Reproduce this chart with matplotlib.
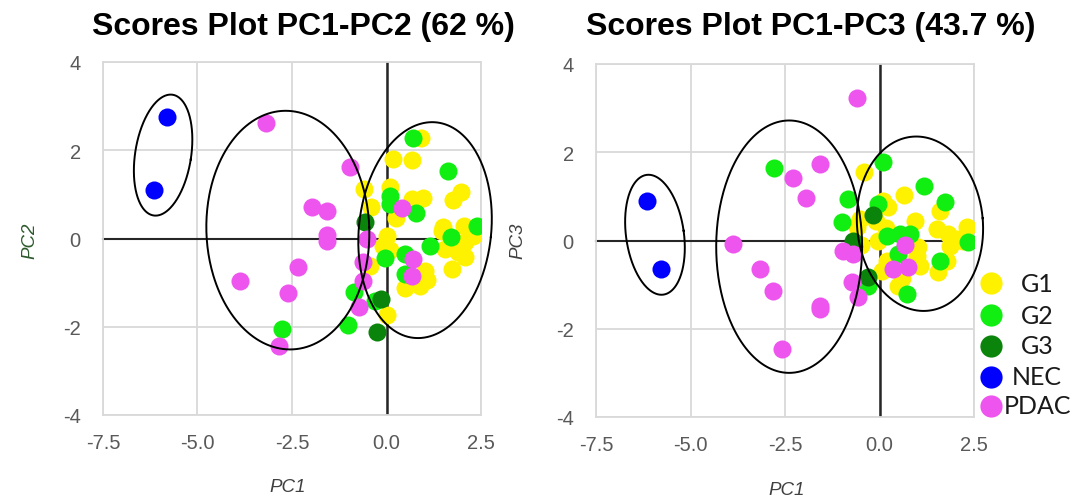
import numpy as np
import matplotlib
matplotlib.use("Agg")
import matplotlib.pyplot as plt
from matplotlib.lines import Line2D

# ---------------- data ----------------
groups = ["G1", "G2", "G3", "NEC", "PDAC"]
colors = {"G1": "#FFF200", "G2": "#11EE11", "G3": "#0B840B", "NEC": "#0000FF", "PDAC": "#EE55EE"}

# Left plot: PC1 vs PC2
g1_pc1_a = [0.91, 0.17, 0.67, -0.60, 0.09, -0.41, 0.67, 0.97, 1.97, 1.76, 0.25, 1.49, 2.05, 0.01, -0.09,
            0.09, -0.44, 1.55, 1.89, 2.08, 2.29, 1.73, 0.49, 0.89, 1.07, 1.02, 0.01, 1.47, 2.08]
g1_pc2_a = [2.28, 1.80, 1.78, 1.12, 1.16, 0.71, 0.89, 0.91, 1.05, 0.87, 0.46, 0.26, 0.28, 0.05, -0.17,
            -0.27, -0.63, -0.24, -0.31, -0.08, 0.05, -0.70, -1.13, -1.08, -0.93, -0.74, -1.74, 0.17, -0.43]
g2_pc1_a = [0.70, 1.63, 0.09, 0.09, 0.78, 2.39, 1.71, 1.15, -0.04, 0.49, 0.49, -0.86, -0.30, -1.02, -2.76]
g2_pc2_a = [2.28, 1.53, 0.96, 0.78, 0.58, 0.28, 0.03, -0.17, -0.45, -0.36, -0.81, -1.22, -1.42, -1.95, -2.06]
g3_pc1_a = [-0.57, -0.15, -0.25]
g3_pc2_a = [0.37, -1.38, -2.13]
nec_pc1_a = [-5.81, -6.15]
nec_pc2_a = [2.76, 1.10]
pdac_pc1_a = [-3.19, -3.88, -2.61, -2.84, -2.34, -0.97, -1.97, -1.57, -1.57, -1.57, 0.41, -0.52, -0.62,
              -0.62, -0.73, 0.70, 0.67]
pdac_pc2_a = [2.62, -0.97, -1.24, -2.43, -0.65, 1.62, 0.71, 0.62, 0.08, -0.06, 0.69, -0.02, -0.54,
              -0.97, -1.56, -0.47, -0.86]

# Right plot: PC1 vs PC3
g1_pc1_b = [-0.41, 0.65, 0.22, 0.09, 1.60, 0.94, -0.52, -0.60, -0.09, 0.17, -0.04, 1.52, 1.81, 2.31, 2.05,
            1.87, 1.02, 1.07, 1.55, 1.79, 0.07, 0.20, 0.49, 0.60, 1.00, 2.20, -0.50]
g1_pc3_b = [1.55, 1.04, 0.76, 0.90, 0.67, 0.45, 0.49, 0.31, 0.45, 0.29, 0.00, 0.26, 0.15, 0.31, 0.04,
            -0.12, -0.14, -0.57, -0.71, -0.46, -0.69, -0.46, -1.03, -0.85, -0.35, 0.00, -0.10]
g2_pc1_b = [-2.79, 0.09, 1.18, 1.73, -0.83, -0.99, -0.04, 2.34, 0.20, 0.54, 0.81, 0.49, 1.60, -0.30, 0.73]
g2_pc3_b = [1.64, 1.78, 1.24, 0.88, 0.94, 0.42, 0.83, -0.03, 0.11, 0.15, 0.15, -0.30, -0.46, -1.03, -1.21]
g3_pc1_b = [-0.17, -0.70, -0.30]
g3_pc3_b = [0.58, 0.00, -0.82]
nec_pc1_b = [-6.15, -5.78]
nec_pc3_b = [0.90, -0.65]
pdac_pc1_b = [-0.60, -1.57, -2.29, -1.94, -3.88, -3.16, -2.82, -1.57, -1.57, -2.58, -0.97, -0.70, -0.73,
              -0.57, 0.67, 0.36, 0.75]
pdac_pc3_b = [3.23, 1.73, 1.42, 0.97, -0.07, -0.64, -1.14, -1.48, -1.55, -2.47, -0.23, -0.30, -0.93,
              -1.27, -0.10, -0.64, -0.60]

# cluster ellipses: centre x, centre y, width (x units), height (y units), tilt (deg, on screen)
ell_a_cx = [-5.91, -2.61, 1.02]
ell_a_cy = [1.89, 0.19, 0.19]
ell_a_w = [1.48, 4.31, 3.50]
ell_a_h = [2.77, 5.41, 4.91]
ell_a_ang = [-9, 2, -6]

ell_b_cx = [-5.94, -2.39, 1.07]
ell_b_cy = [0.13, -0.14, 0.38]
ell_b_w = [1.53, 3.86, 3.33]
ell_b_h = [2.74, 5.72, 3.96]
ell_b_ang = [8, 0, 5]

x_ticks = [-7.5, -5.0, -2.5, 0.0, 2.5]
x_ticklabels = ["-7.5", "-5.0", "-2.5", "0.0", "2.5"]
y_ticks = [-4, -2, 0, 2, 4]
y_ticklabels = ["-4", "-2", "0", "2", "4"]

titles = ["Scores Plot PC1-PC2 (62 %)", "Scores Plot PC1-PC3 (43.7 %)"]

# ---------------- figure ----------------
W, H = 1083, 502
fig = plt.figure(figsize=(W / 100, H / 100), dpi=100)
plt.rcParams['font.family'] = ['Liberation Sans', 'DejaVu Sans']

def px_box(l, t, r, b):
    return [l / W, 1 - b / H, (r - l) / W, (b - t) / H]

axA = fig.add_axes(px_box(103, 63, 481, 416))
axB = fig.add_axes(px_box(596, 65, 974, 418))

grid_c = "#D9D9D9"
tick_c = "#595959"
msize = 13


def draw_ellipse(ax, cx, cy, w, h, ang):
    t = np.linspace(0, 2 * np.pi, 300)
    x0, y0 = ax.transData.transform((cx, cy))
    x1, _ = ax.transData.transform((cx + 1, cy))
    _, y1 = ax.transData.transform((cx, cy + 1))
    a = w / 2 * (x1 - x0)
    b = h / 2 * (y1 - y0)
    th = np.deg2rad(ang)
    px = x0 + a * np.cos(t) * np.cos(th) - b * np.sin(t) * np.sin(th)
    py = y0 + a * np.cos(t) * np.sin(th) + b * np.sin(t) * np.cos(th)
    pts = ax.transData.inverted().transform(np.column_stack([px, py]))
    ax.plot(pts[:, 0], pts[:, 1], color="black", lw=1.4, zorder=6, clip_on=False)


def style(ax):
    ax.set_xlim(-7.5, 2.5)
    ax.set_ylim(-4, 4)
    ax.set_xticks(x_ticks)
    ax.set_xticklabels(x_ticklabels)
    ax.set_yticks(y_ticks)
    ax.set_yticklabels(y_ticklabels)
    ax.tick_params(length=0, labelsize=14.5, colors=tick_c)
    ax.tick_params(axis="x", pad=13)
    ax.tick_params(axis="y", pad=16)
    ax.grid(True, color=grid_c, lw=1.3, zorder=0)
    ax.set_axisbelow(True)
    for s in ax.spines.values():
        s.set_color(grid_c)
        s.set_linewidth(1.3)
    ax.axhline(0, color="#262626", lw=1.5, zorder=2, clip_on=False)
    ax.axvline(0, color="#262626", lw=1.8, zorder=2)


series_a = [(g1_pc1_a, g1_pc2_a), (g2_pc1_a, g2_pc2_a), (g3_pc1_a, g3_pc2_a),
            (nec_pc1_a, nec_pc2_a), (pdac_pc1_a, pdac_pc2_a)]
series_b = [(g1_pc1_b, g1_pc3_b), (g2_pc1_b, g2_pc3_b), (g3_pc1_b, g3_pc3_b),
            (nec_pc1_b, nec_pc3_b), (pdac_pc1_b, pdac_pc3_b)]

for ax, series, ecx, ecy, ew, eh, ea in [
        (axA, series_a, ell_a_cx, ell_a_cy, ell_a_w, ell_a_h, ell_a_ang),
        (axB, series_b, ell_b_cx, ell_b_cy, ell_b_w, ell_b_h, ell_b_ang)]:
    style(ax)
    for g, (xs, ys) in zip(groups, series):
        ax.plot(xs, ys, "o", ms=msize, color=colors[g], mec="none", zorder=3)
    for cx, cy, w, h, an in zip(ecx, ecy, ew, eh, ea):
        draw_ellipse(ax, cx, cy, w, h, an)

# titles
fig.text(303 / W, 1 - 27 / H, titles[0], ha="center", va="center", fontsize=23, fontweight="bold")
fig.text(811 / W, 1 - 27 / H, titles[1], ha="center", va="center", fontsize=23, fontweight="bold")

# axis labels
lab_c = "#404040"
fig.text(288 / W, 1 - 488 / H, "PC1", ha="center", va="center", fontsize=13.5, style="italic", color=lab_c)
fig.text(787 / W, 1 - 491 / H, "PC1", ha="center", va="center", fontsize=13.5, style="italic", color=lab_c)
fig.text(30 / W, 1 - 241 / H, "PC2", ha="center", va="center", fontsize=13.5, style="italic",
         color="#2E5A2E", rotation=90)
fig.text(518 / W, 1 - 241 / H, "PC3", ha="center", va="center", fontsize=13.5, style="italic",
         color=lab_c, rotation=90)

# legend (manual, centred labels)
leg_y = [284, 316, 347, 378, 407]
for g, yy in zip(groups, leg_y):
    fig.add_artist(Line2D([991 / W], [1 - yy / H], marker="o", ms=16, color=colors[g], mec="none",
                          transform=fig.transFigure))
    fig.text(1037 / W, 1 - yy / H, g, ha="center", va="center", fontsize=18, color="#1A1A1A",
             family=["Lato", "DejaVu Sans"])

fig.savefig("out.png", dpi=100)
